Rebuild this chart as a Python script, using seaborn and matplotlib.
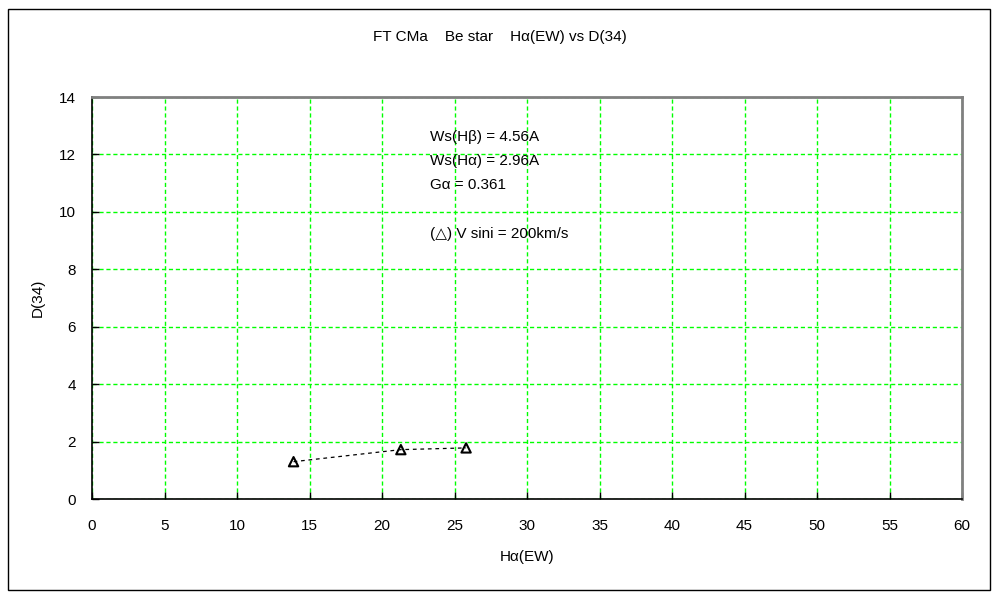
import matplotlib
matplotlib.use("Agg")
import matplotlib.pyplot as plt
import seaborn as sns

# data
ha_ew = [13.9, 21.3, 25.8]
d34 = [1.3, 1.72, 1.78]

x_ticks = list(range(0, 61, 5))
y_ticks = list(range(0, 15, 2))

title = "FT CMa    Be star    Hα(EW) vs D(34)"
notes = [
    "Ws(Hβ) = 4.56A",
    "Ws(Hα) = 2.96A",
    "Gα = 0.361",
    "",
    "(△) V sini = 200km/s",
]

sns.set_theme(style="white")
plt.rcParams["font.family"] = ["Liberation Sans", "DejaVu Sans"]
plt.rcParams["text.color"] = "black"
plt.rcParams["axes.labelcolor"] = "black"

fig = plt.figure(figsize=(10, 6), dpi=100)
ax = fig.add_axes([0.092, 0.1683, 0.870, 0.670])

sns.lineplot(x=ha_ew, y=d34, ax=ax, color="black", linestyle=(0, (3, 3)),
             linewidth=0.9, sort=False, estimator=None)
sns.scatterplot(x=ha_ew, y=d34, ax=ax, marker="^", s=45, facecolor="none",
                edgecolor="black", linewidth=1.5, zorder=5)

ax.set_xlim(0, 60)
ax.set_ylim(0, 14)
ax.set_xticks(x_ticks)
ax.set_yticks(y_ticks)
ax.grid(True, color="#00ff00", linestyle=(0, (3, 2)), linewidth=1.0)
ax.tick_params(direction="in", length=5, width=1, colors="black",
               labelsize=11, left=True, bottom=True)
ax.tick_params(axis="x", pad=14.5)
ax.tick_params(axis="y", pad=11.5)
for side in ["left", "bottom"]:
    ax.spines[side].set_color("black")
    ax.spines[side].set_linewidth(1.2)
for side in ["top", "right"]:
    ax.spines[side].set_color("gray")
    ax.spines[side].set_linewidth(2)

ax.set_xlabel("Hα(EW)", fontsize=11, labelpad=12)
ax.set_ylabel("D(34)", fontsize=11, labelpad=10)
fig.text(0.5, 0.938, title, ha="center", va="center", fontsize=11)

for i, line in enumerate(notes):
    ax.text(23.3, 12.6 - i * 0.84, line, fontsize=11, va="center", ha="left")

fig.patches.append(plt.Rectangle((0.008, 0.017), 0.982, 0.968, fill=False,
                                 edgecolor="black", linewidth=1,
                                 transform=fig.transFigure))

fig.savefig("out.png", dpi=100)
